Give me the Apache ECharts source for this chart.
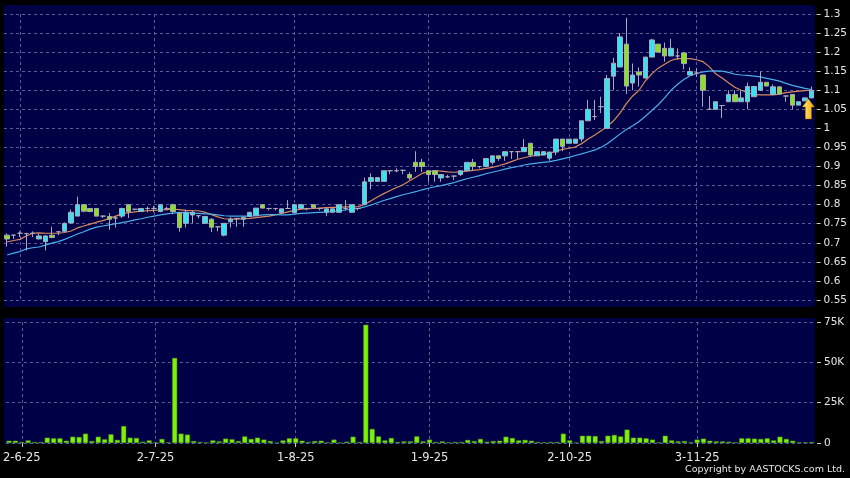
<!DOCTYPE html>
<html>
<head>
<meta charset="utf-8">
<script src="https://cdn.jsdelivr.net/npm/echarts@6/dist/echarts.min.js"></script>
<style>
  html, body { margin: 0; padding: 0; background: #000; }
  #chart { width: 850px; height: 478px; }
</style>
</head>
<body>
<div id="chart"></div>
<script>
// trading days, d-m-yy
const dates = [
  '29-5-25', '30-5-25',
  '2-6-25', '3-6-25', '4-6-25', '5-6-25', '6-6-25', '9-6-25', '10-6-25', '11-6-25', '12-6-25', '13-6-25',
  '16-6-25', '17-6-25', '18-6-25', '19-6-25', '20-6-25', '23-6-25', '24-6-25', '25-6-25', '26-6-25', '27-6-25', '30-6-25',
  '2-7-25', '3-7-25', '4-7-25', '7-7-25', '8-7-25', '9-7-25', '10-7-25', '11-7-25', '14-7-25', '15-7-25', '16-7-25',
  '17-7-25', '18-7-25', '21-7-25', '22-7-25', '23-7-25', '24-7-25', '25-7-25', '28-7-25', '29-7-25', '30-7-25', '31-7-25',
  '1-8-25', '4-8-25', '5-8-25', '6-8-25', '7-8-25', '8-8-25', '11-8-25', '12-8-25', '13-8-25', '14-8-25', '15-8-25',
  '18-8-25', '19-8-25', '20-8-25', '21-8-25', '22-8-25', '25-8-25', '26-8-25', '27-8-25', '28-8-25', '29-8-25',
  '1-9-25', '2-9-25', '3-9-25', '4-9-25', '5-9-25', '8-9-25', '9-9-25', '10-9-25', '11-9-25', '12-9-25', '15-9-25',
  '16-9-25', '17-9-25', '18-9-25', '19-9-25', '22-9-25', '23-9-25', '24-9-25', '25-9-25', '26-9-25', '29-9-25', '30-9-25',
  '2-10-25', '3-10-25', '6-10-25', '8-10-25', '9-10-25', '10-10-25', '13-10-25', '14-10-25', '15-10-25', '16-10-25',
  '17-10-25', '20-10-25', '21-10-25', '22-10-25', '23-10-25', '24-10-25', '27-10-25', '28-10-25', '30-10-25', '31-10-25',
  '3-11-25', '4-11-25', '5-11-25', '6-11-25', '7-11-25', '10-11-25', '11-11-25', '12-11-25', '13-11-25', '14-11-25',
  '17-11-25', '18-11-25', '19-11-25', '20-11-25', '21-11-25', '24-11-25', '25-11-25', '26-11-25', '27-11-25'
]
const tickLabels = ['2-6-25', '2-7-25', '1-8-25', '1-9-25', '2-10-25', '3-11-25']

const opens = [
  0.72, 0.72, 0.725, 0.724, 0.725, 0.71, 0.703, 0.72, 0.729, 0.73,
  0.752, 0.77, 0.80, 0.79, 0.79, 0.77, 0.769, 0.765, 0.77, 0.80,
  0.788, 0.782, 0.79, 0.79, 0.782, 0.79, 0.80, 0.778, 0.751, 0.773,
  0.771, 0.751, 0.762, 0.742, 0.72, 0.755, 0.764, 0.762, 0.769, 0.771,
  0.80, 0.79, 0.79, 0.779, 0.79, 0.779, 0.79, 0.79, 0.80, 0.79,
  0.78, 0.78, 0.78, 0.79, 0.78, 0.79, 0.80, 0.861, 0.861, 0.861,
  0.889, 0.889, 0.89, 0.879, 0.911, 0.911, 0.889, 0.889, 0.87, 0.873,
  0.875, 0.879, 0.889, 0.911, 0.90, 0.90, 0.911, 0.928, 0.928, 0.939,
  0.939, 0.939, 0.961, 0.928, 0.93, 0.922, 0.938, 0.972, 0.961, 0.961,
  0.972, 1.02, 1.031, 1.057, 1.00, 1.137, 1.161, 1.221, 1.119, 1.148,
  1.132, 1.187, 1.221, 1.21, 1.19, 1.19, 1.198, 1.14, 1.145, 1.14,
  1.05, 1.05, 1.06, 1.07, 1.089, 1.07, 1.07, 1.083, 1.10, 1.121,
  1.089, 1.109, 1.085, 1.089, 1.061, 1.072, 1.08
]
const closes = [
  0.71, 0.72, 0.725, 0.724, 0.725, 0.718, 0.718, 0.714, 0.729, 0.751,
  0.78, 0.80, 0.783, 0.782, 0.77, 0.77, 0.762, 0.765, 0.79, 0.782,
  0.788, 0.79, 0.79, 0.79, 0.80, 0.79, 0.782, 0.74, 0.78, 0.78,
  0.771, 0.769, 0.741, 0.742, 0.751, 0.762, 0.764, 0.767, 0.78, 0.791,
  0.791, 0.79, 0.79, 0.789, 0.79, 0.80, 0.80, 0.79, 0.792, 0.79,
  0.789, 0.789, 0.80, 0.79, 0.80, 0.79, 0.86, 0.871, 0.871, 0.889,
  0.889, 0.889, 0.89, 0.87, 0.90, 0.90, 0.879, 0.879, 0.879, 0.873,
  0.875, 0.889, 0.911, 0.90, 0.90, 0.921, 0.928, 0.921, 0.939, 0.939,
  0.939, 0.95, 0.93, 0.939, 0.939, 0.938, 0.972, 0.953, 0.972, 0.972,
  1.02, 1.05, 1.031, 1.057, 1.131, 1.171, 1.24, 1.111, 1.14, 1.14,
  1.187, 1.232, 1.20, 1.19, 1.21, 1.19, 1.17, 1.149, 1.145, 1.10,
  1.05, 1.07, 1.06, 1.089, 1.07, 1.08, 1.11, 1.11, 1.121, 1.111,
  1.109, 1.09, 1.085, 1.061, 1.07, 1.08, 1.10
]
const lows = [
  0.69, 0.71, 0.715, 0.68, 0.715, 0.71, 0.68, 0.712, 0.72, 0.728,
  0.75, 0.77, 0.78, 0.78, 0.77, 0.765, 0.734, 0.74, 0.765, 0.765,
  0.785, 0.782, 0.78, 0.78, 0.78, 0.785, 0.775, 0.729, 0.74, 0.751,
  0.764, 0.751, 0.728, 0.73, 0.717, 0.74, 0.742, 0.742, 0.769, 0.771,
  0.791, 0.785, 0.785, 0.777, 0.79, 0.779, 0.79, 0.785, 0.79, 0.785,
  0.77, 0.78, 0.78, 0.785, 0.78, 0.785, 0.80, 0.84, 0.861, 0.861,
  0.88, 0.885, 0.88, 0.865, 0.886, 0.886, 0.86, 0.86, 0.86, 0.87,
  0.865, 0.875, 0.889, 0.89, 0.895, 0.90, 0.905, 0.915, 0.915, 0.92,
  0.92, 0.939, 0.925, 0.928, 0.93, 0.915, 0.93, 0.94, 0.961, 0.961,
  0.965, 1.02, 1.022, 1.04, 1.00, 1.10, 1.161, 1.09, 1.10, 1.11,
  1.132, 1.187, 1.20, 1.175, 1.19, 1.18, 1.155, 1.14, 1.135, 1.057,
  1.05, 1.05, 1.027, 1.07, 1.07, 1.07, 1.05, 1.083, 1.10, 1.111,
  1.089, 1.09, 1.07, 1.05, 1.061, 1.072, 1.08
]
const highs = [
  0.725, 0.72, 0.73, 0.726, 0.73, 0.724, 0.72, 0.742, 0.731, 0.753,
  0.787, 0.821, 0.80, 0.79, 0.79, 0.77, 0.778, 0.77, 0.792, 0.80,
  0.788, 0.79, 0.795, 0.797, 0.802, 0.795, 0.802, 0.778, 0.787, 0.785,
  0.771, 0.769, 0.764, 0.742, 0.751, 0.767, 0.764, 0.767, 0.78, 0.791,
  0.80, 0.79, 0.79, 0.79, 0.812, 0.80, 0.80, 0.79, 0.80, 0.79,
  0.79, 0.79, 0.80, 0.812, 0.80, 0.79, 0.871, 0.882, 0.871, 0.889,
  0.889, 0.895, 0.892, 0.885, 0.94, 0.92, 0.889, 0.889, 0.879, 0.878,
  0.875, 0.889, 0.911, 0.92, 0.90, 0.921, 0.928, 0.928, 0.939, 0.939,
  0.939, 0.972, 0.961, 0.939, 0.939, 0.938, 0.972, 0.972, 0.972, 0.972,
  1.02, 1.075, 1.075, 1.083, 1.14, 1.185, 1.25, 1.29, 1.17, 1.16,
  1.187, 1.235, 1.221, 1.225, 1.235, 1.21, 1.20, 1.16, 1.158, 1.14,
  1.085, 1.07, 1.06, 1.10, 1.10, 1.10, 1.12, 1.11, 1.149, 1.121,
  1.115, 1.109, 1.085, 1.089, 1.07, 1.08, 1.11
]

// moving averages as drawn on the chart
const ma10 = [
  0.702, 0.706, 0.709, 0.718, 0.725, 0.726, 0.725, 0.725, 0.725, 0.727,
  0.731, 0.739, 0.744, 0.749, 0.754, 0.758, 0.764, 0.770, 0.776, 0.779,
  0.781, 0.783, 0.784, 0.785, 0.786, 0.787, 0.788, 0.787, 0.785, 0.784,
  0.784, 0.780, 0.774, 0.768, 0.763, 0.762, 0.762, 0.763, 0.764, 0.766,
  0.768, 0.770, 0.773, 0.777, 0.781, 0.785, 0.788, 0.789, 0.790, 0.791,
  0.792, 0.793, 0.793, 0.794, 0.794, 0.795, 0.801, 0.810, 0.820, 0.829,
  0.837, 0.845, 0.852, 0.862, 0.872, 0.882, 0.886, 0.889, 0.888, 0.886,
  0.885, 0.886, 0.888, 0.890, 0.892, 0.895, 0.898, 0.902, 0.907, 0.913,
  0.919, 0.923, 0.927, 0.930, 0.932, 0.935, 0.940, 0.945, 0.948, 0.951,
  0.960, 0.972, 0.982, 0.993, 1.005, 1.020, 1.040, 1.065, 1.085, 1.100,
  1.125, 1.143, 1.158, 1.168, 1.178, 1.183, 1.183, 1.183, 1.180, 1.175,
  1.162, 1.143, 1.132, 1.120, 1.108, 1.100, 1.094, 1.089, 1.088, 1.088,
  1.088, 1.090, 1.094, 1.096, 1.098, 1.099, 1.100
]
const ma20 = [
  0.668, 0.673, 0.677, 0.684, 0.687, 0.689, 0.694, 0.699, 0.703, 0.709,
  0.716, 0.723, 0.729, 0.736, 0.741, 0.744, 0.747, 0.750, 0.753, 0.756,
  0.760, 0.763, 0.767, 0.770, 0.773, 0.776, 0.778, 0.780, 0.779, 0.778,
  0.777, 0.776, 0.775, 0.773, 0.771, 0.770, 0.770, 0.770, 0.770, 0.771,
  0.773, 0.774, 0.774, 0.773, 0.773, 0.775, 0.777, 0.778, 0.779, 0.780,
  0.781, 0.782, 0.784, 0.786, 0.788, 0.790, 0.794, 0.799, 0.805, 0.811,
  0.816, 0.821, 0.826, 0.830, 0.834, 0.839, 0.843, 0.847, 0.850, 0.854,
  0.858, 0.863, 0.868, 0.872, 0.876, 0.881, 0.885, 0.889, 0.893, 0.897,
  0.900, 0.904, 0.907, 0.909, 0.911, 0.913, 0.916, 0.920, 0.924, 0.929,
  0.933, 0.938, 0.943, 0.950, 0.960, 0.972, 0.985, 0.997, 1.007, 1.018,
  1.032, 1.047, 1.062, 1.080, 1.100, 1.115, 1.128, 1.138, 1.144, 1.148,
  1.150, 1.151, 1.150, 1.147, 1.142, 1.140, 1.139, 1.137, 1.135, 1.131,
  1.128, 1.124, 1.118, 1.113, 1.109, 1.105, 1.102
]

const volumes = [
  1400, 1400, 600, 1600, 600, 600, 3300, 2900, 2900, 1400,
  3900, 3700, 5800, 1200, 3900, 2300, 5400, 1900, 10500, 3300,
  3100, 800, 1600, 400, 2500, 400, 52700, 5800, 5200, 1200,
  600, 200, 1600, 1000, 2700, 2300, 1200, 4100, 2500, 3300,
  2100, 1200, 200, 1600, 2900, 2900, 1400, 600, 1200, 1400,
  400, 2100, 200, 800, 3900, 600, 73300, 8700, 4100, 1600,
  3100, 600, 1000, 1000, 4100, 1000, 2100, 600, 1000, 400,
  600, 600, 1900, 1200, 2500, 800, 1200, 1400, 3900, 3100,
  1600, 1900, 1400, 600, 400, 600, 600, 5800, 1600, 200,
  4500, 4500, 4300, 1200, 4500, 5000, 4100, 8300, 3300, 3300,
  2900, 2100, 400, 4500, 1600, 1000, 1200, 400, 2100, 2700,
  1400, 1000, 1000, 800, 400, 2900, 2900, 2700, 2500, 2900,
  1600, 3900, 2500, 1400, 400, 400, 600
]

const chart = echarts.init(document.getElementById('chart'))

const showTick = (i, v) => tickLabels.includes(v)
const labelColor = '#e6e6e6'
const gridLine = { color: '#5c5c94', width: 1, type: [3, 3] }
const last = dates.length - 1

const option = {
  animation: false,
  backgroundColor: '#000',
  textStyle: { fontFamily: 'DejaVu Sans' },
  graphic: [
    { type: 'rect', z: -10, silent: true, shape: { x: 4, y: 5, width: 811, height: 302 }, style: { fill: '#000046' } },
    { type: 'rect', z: -10, silent: true, shape: { x: 4, y: 318, width: 811, height: 126 }, style: { fill: '#000046' } },
    {
      type: 'text', right: 5, bottom: 3,
      style: { text: 'Copyright by AASTOCKS.com Ltd.', fill: labelColor, font: '9.5px "DejaVu Sans"' }
    }
  ],
  grid: [
    { left: 4, right: 35, top: 14, height: 286 },
    { left: 4, right: 35, top: 322, height: 121 }
  ],
  xAxis: [
    {
      type: 'category', gridIndex: 0, data: dates, boundaryGap: true,
      axisLine: { show: false }, axisTick: { show: false }, axisLabel: { show: false },
      splitLine: { show: true, interval: showTick, alignWithLabel: true, lineStyle: gridLine }
    },
    {
      type: 'category', gridIndex: 1, data: dates, boundaryGap: true, offset: 2,
      axisLine: { show: false },
      axisTick: { show: true, interval: showTick, alignWithLabel: true, length: 4, lineStyle: { color: '#cccccc' } },
      axisLabel: { interval: showTick, color: labelColor, fontSize: 11.5, margin: 7 },
      splitLine: { show: true, interval: showTick, alignWithLabel: true, lineStyle: gridLine }
    }
  ],
  yAxis: [
    {
      type: 'value', gridIndex: 0, position: 'right', min: 0.55, max: 1.3, interval: 0.05, offset: 2,
      axisLine: { show: false },
      axisTick: { show: true, length: 4, lineStyle: { color: '#cccccc' } },
      axisLabel: { color: labelColor, fontSize: 10.5, margin: 7 },
      splitLine: { show: true, lineStyle: gridLine }
    },
    {
      type: 'value', gridIndex: 1, position: 'right', min: 0, max: 75000, interval: 25000, offset: 2,
      axisLine: { show: false },
      axisTick: { show: true, length: 4, lineStyle: { color: '#cccccc' } },
      axisLabel: {
        color: labelColor, fontSize: 10.5, margin: 7,
        formatter: v => (v === 0 ? '0' : v / 1000 + 'K')
      },
      splitLine: { show: true, lineStyle: gridLine }
    }
  ],
  series: [
    {
      name: 'MA10', type: 'line', xAxisIndex: 0, yAxisIndex: 0, data: ma10,
      symbol: 'none', lineStyle: { color: '#d98a5e', width: 1.2 }, z: 3
    },
    {
      name: 'MA20', type: 'line', xAxisIndex: 0, yAxisIndex: 0, data: ma20,
      symbol: 'none', lineStyle: { color: '#4aaeea', width: 1.2 }, z: 3
    },
    {
      name: 'Price', type: 'candlestick', xAxisIndex: 0, yAxisIndex: 0, z: 4,
      data: dates.map((d, i) => [opens[i], closes[i], lows[i], highs[i]]),
      barWidth: 5,
      itemStyle: {
        color: '#35e3f2', color0: '#8ae21c',
        borderColor: '#a9a9b9', borderColor0: '#a9a9b9', borderColorDoji: '#a9a9b9',
        borderWidth: 1
      },
      markPoint: {
        silent: true,
        label: { show: false },
        data: [{
          coord: [dates[last], opens[last]],
          symbol: 'path://M6,0 L12,8 L9,8 L9,20 L3,20 L3,8 L0,8 Z',
          symbolSize: [12, 20],
          symbolOffset: [-3, 11],
          itemStyle: {
            color: new echarts.graphic.LinearGradient(0, 0, 1, 0, [
              { offset: 0, color: '#fff27a' },
              { offset: 1, color: '#f0a400' }
            ]),
            borderColor: '#c07800', borderWidth: 0.5
          }
        }]
      }
    },
    {
      name: 'Volume', type: 'bar', xAxisIndex: 1, yAxisIndex: 1, data: volumes,
      barWidth: 5,
      itemStyle: { color: '#7ef00a', borderColor: '#4e9c10', borderWidth: 0.5 }
    }
  ]
}

chart.setOption(option)
</script>
</body>
</html>
